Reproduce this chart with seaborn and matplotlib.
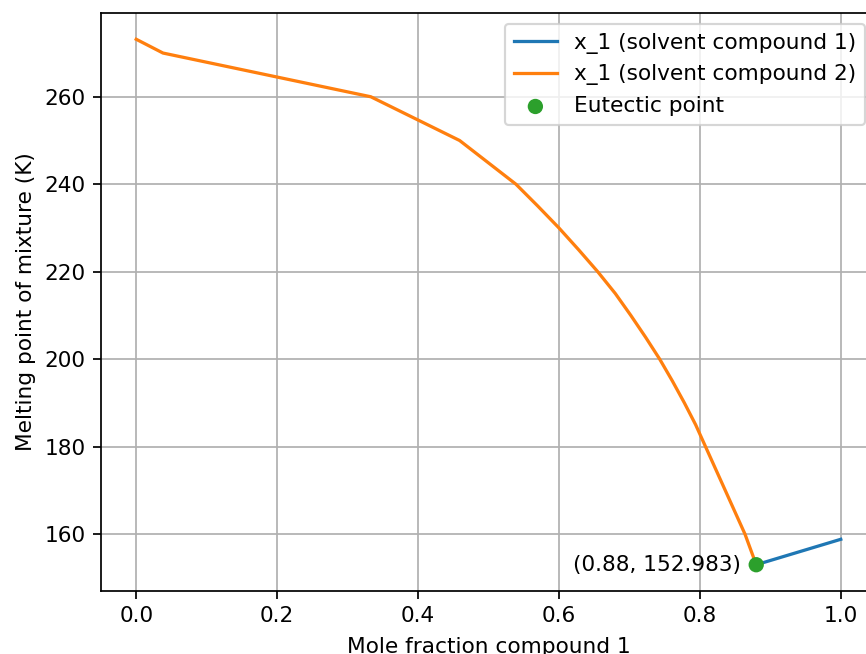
import numpy as np
import pandas as pd
import matplotlib
matplotlib.use("Agg")
import matplotlib.pyplot as plt
import seaborn as sns

# liquidus branch, solvent = compound 1
x_solv1 = [0.88, 1.0]
T_solv1 = [152.983, 158.8]

# liquidus branch, solvent = compound 2
x_solv2 = [0.0, 0.038, 0.333, 0.459, 0.539, 0.570, 0.600, 0.628, 0.655, 0.680, 0.702,
           0.723, 0.743, 0.761, 0.778, 0.794, 0.808, 0.822, 0.836, 0.850, 0.864, 0.88]
T_solv2 = [273.15, 270, 260, 250, 240, 235, 230, 225, 220, 215, 210,
           205, 200, 195, 190, 185, 180, 175, 170, 165, 160, 152.983]

x_eut = 0.88
T_eut = 152.983

dpi = 156
fig = plt.figure(figsize=(866 / dpi, 654 / dpi), dpi=dpi)
ax = fig.add_axes([101 / 866, 63 / 654, 775 / 866, 578 / 654])

sns.lineplot(x=x_solv1, y=T_solv1, ax=ax, color="C0", linewidth=1.5, label="x_1 (solvent compound 1)")
sns.lineplot(x=x_solv2, y=T_solv2, ax=ax, color="C1", linewidth=1.5, label="x_1 (solvent compound 2)")
sns.scatterplot(x=[x_eut], y=[T_eut], ax=ax, color="C2", s=50, edgecolor="none", label="Eutectic point", zorder=3)

ax.annotate(f"({x_eut}, {T_eut})", xy=(x_eut, T_eut), xytext=(-7, 0),
            textcoords="offset points", ha="right", va="center", fontsize=10)

ax.set_xlabel("Mole fraction compound 1", labelpad=5)
ax.set_ylabel("Melting point of mixture (K)")
ax.grid(True)
ax.legend(loc="upper right")
# the right edge of the axes falls outside the cropped image in the reference
ax.spines["right"].set_visible(False)

fig.savefig("out.png", dpi=dpi)
